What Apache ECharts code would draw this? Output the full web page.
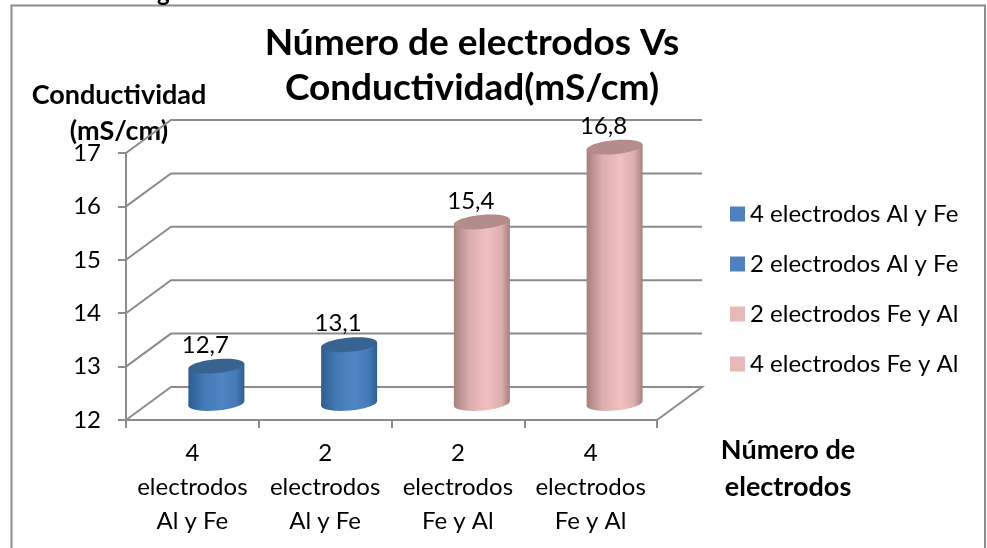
<!DOCTYPE html>
<html>
<head>
<meta charset="utf-8">
<style>html,body{margin:0;padding:0;background:#fff}#c{width:987px;height:548px}</style>
<script src="https://cdn.jsdelivr.net/npm/echarts@6/dist/echarts.min.js"></script>
</head>
<body>
<div id="c"></div>
<script>
const chartTitle = 'Número de electrodos Vs\nConductividad(mS/cm)';
const categories = ['4 electrodos Al y Fe', '2 electrodos Al y Fe', '2 electrodos Fe y Al', '4 electrodos Fe y Al'];
const axisCategories = ['4\nelectrodos\nAl y Fe', '2\nelectrodos\nAl y Fe', '2\nelectrodos\nFe y Al', '4\nelectrodos\nFe y Al'];
const values = [12.7, 13.1, 15.4, 16.8];
const yTicks = [12, 13, 14, 15, 16, 17];
const yAxisName = 'Conductividad\n(mS/cm)';
const xAxisName = 'Número de\nelectrodos';

const FONT = 'Lato, Carlito, "Open Sans", sans-serif';
const DEPTH_X = 45, DEPTH_Y = -33, AXIS_GREY = '#8c8c8c';
const BLUE = {legend:'#4f81bd', edge:'#2f5d91', near:'#447ab6', mid:'#5085c4', top:'#38628f'};
const PINK = {legend:'#e6b9b8', edge:'#a67f7f', near:'#dcaeae', mid:'#f3bfbf', top:'#b48c8c'};
const seriesColors = [BLUE, BLUE, PINK, PINK];

function wallRenderer(params, api) {
  const v = api.value(0);
  const a = api.coord([0, v]);
  const left = params.coordSys.x, right = left + params.coordSys.width;
  const pts = [[left, a[1]], [left + DEPTH_X, a[1] + DEPTH_Y], [right + DEPTH_X, a[1] + DEPTH_Y]];
  if (v === yTicks[0]) pts.push([right, a[1]]);
  return {type: 'polyline', shape: {points: pts}, style: {stroke: AXIS_GREY, lineWidth: 2, fill: null}, silent: true};
}

function cylinderRenderer(colors) {
  return function (params, api) {
    const idx = api.value(0), val = api.value(1);
    const base = api.coord([idx, yTicks[0]]);
    const top = api.coord([idx, val]);
    const cx = base[0] + DEPTH_X / 2 + 1.5, yb = base[1] + DEPTH_Y / 2, yt = top[1] + DEPTH_Y / 2;
    const rx = 28, ry = 7, tilt = 2.6;
    const grad = {type: 'linear', x: 0, y: 0, x2: 1, y2: 0, colorStops: [
      {offset: 0, color: colors.edge}, {offset: 0.28, color: colors.near}, {offset: 0.6, color: colors.mid}, {offset: 0.85, color: colors.near}, {offset: 1, color: colors.edge}]};
    const rot = Math.atan2(tilt, rx);
    const bodyPath = 'M' + (cx - rx) + ' ' + (yt + tilt) + 'L' + (cx + rx) + ' ' + (yt - tilt) + 'L' + (cx + rx) + ' ' + (yb - tilt) + 'L' + (cx - rx) + ' ' + (yb + tilt) + 'Z';
    return {type: 'group', children: [
      {type: 'ellipse', shape: {cx: cx, cy: yb, rx: rx, ry: ry}, rotation: rot, originX: cx, originY: yb, style: {fill: grad}},
      {type: 'path', shape: {pathData: bodyPath, layout: 'center', x: cx - rx, y: yt - tilt, width: 2 * rx, height: yb - yt + 2 * tilt}, style: {fill: grad}},
      {type: 'ellipse', shape: {cx: cx, cy: yt, rx: rx, ry: ry}, rotation: rot, originX: cx, originY: yt, style: {fill: colors.top}},
      {type: 'text', x: cx - 11, y: yt - 21, style: {text: String(val).replace('.', ','), align: 'center', verticalAlign: 'middle', fill: '#000', font: '24px ' + FONT}}
    ]};
  };
}

const chart = echarts.init(document.getElementById('c'), null, {renderer: 'canvas'});
chart.setOption({
  animation: false,
  backgroundColor: '#fff',
  title: {text: chartTitle, left: 467, top: 16, textAlign: 'center',
    textStyle: {fontFamily: FONT, fontWeight: 'bold', fontSize: 37, lineHeight: 45, color: '#000'}},
  legend: {orient: 'vertical', left: 725, top: 197, icon: 'rect', itemWidth: 15, itemHeight: 15, itemGap: 26, data: categories,
    textStyle: {fontFamily: FONT, fontSize: 24, color: '#000', lineHeight: 24}},
  grid: {left: 126, right: 330, top: 153, bottom: 128, containLabel: false},
  xAxis: {type: 'category', data: axisCategories, boundaryGap: true,
    axisLine: {lineStyle: {color: AXIS_GREY, width: 2}}, axisTick: {show: true, length: 8, alignWithLabel: false, lineStyle: {color: AXIS_GREY, width: 2}},
    axisLabel: {fontFamily: FONT, fontSize: 24, lineHeight: 34, color: '#000', margin: 16, interval: 0},
    name: xAxisName, nameLocation: 'end', nameGap: 131, nameMoveOverlap: false,
    nameTextStyle: {fontFamily: FONT, fontSize: 27, fontWeight: 'bold', lineHeight: 37, color: '#000', align: 'center', verticalAlign: 'top', padding: [12, 0, 0, 0]}},
  yAxis: {type: 'value', min: 12, max: 17, interval: 1,
    axisLine: {show: true, lineStyle: {color: AXIS_GREY, width: 2}}, axisTick: {show: true, length: 8, lineStyle: {color: AXIS_GREY, width: 2}},
    axisLabel: {fontFamily: FONT, fontSize: 24, color: '#000', margin: 25}, splitLine: {show: false},
    name: yAxisName, nameLocation: 'end', nameGap: 76, nameMoveOverlap: false,
    nameTextStyle: {fontFamily: FONT, fontSize: 27, fontWeight: 'bold', lineHeight: 36, color: '#000', align: 'center', verticalAlign: 'top', padding: [0, 14, 0, 0]}},
  series: [
    {type: 'custom', name: 'walls', data: yTicks.map(v => [v]), encode: {y: 0}, renderItem: wallRenderer, silent: true, z: 1}
  ].concat(categories.map((name, i) => ({
    type: 'custom', name: name, coordinateSystem: 'cartesian2d', z: 3,
    itemStyle: {color: seriesColors[i].legend},
    data: [[i, values[i]]], encode: {x: 0, y: 1},
    renderItem: cylinderRenderer(seriesColors[i])
  }))),
  graphic: [
    {type: 'rect', z: -1, shape: {x: 11.5, y: 5.5, width: 973.5, height: 560}, style: {fill: 'none', stroke: AXIS_GREY, lineWidth: 2}, silent: true},
    {type: 'text', left: 157, top: -19, style: {text: 'g', fill: '#000', font: 'bold 24px ' + FONT}, silent: true}
  ]
});
</script>
</body>
</html>
